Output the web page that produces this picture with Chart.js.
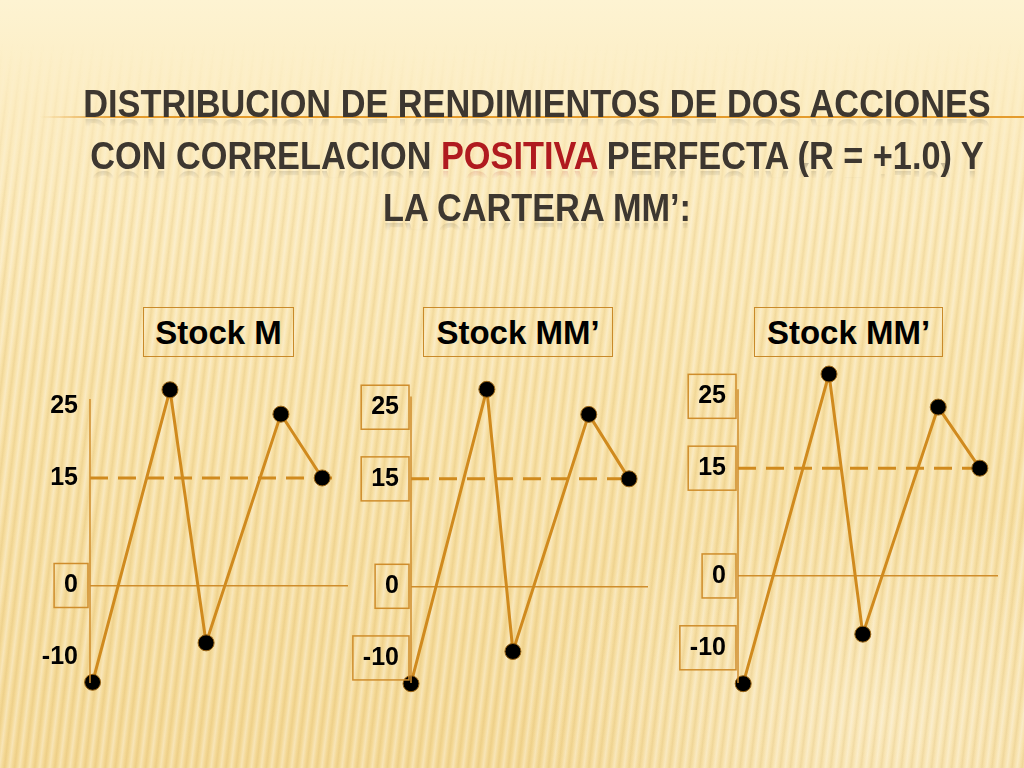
<!DOCTYPE html>
<html>
<head>
<meta charset="utf-8">
<script src="https://cdn.jsdelivr.net/npm/chart.js@4.4.0/dist/chart.umd.min.js"></script>
<style>
html, body { margin: 0; padding: 0; }
#slide {
  position: relative; width: 1024px; height: 768px; overflow: hidden;
  background:
    radial-gradient(ellipse 520px 320px at 880px 720px, rgba(255,246,220,0.5), rgba(255,246,220,0) 70%),
    linear-gradient(to bottom, #fdf3d2 0px, #fcecc0 110px, #f8e1a6 380px, #f4d894 768px);
}
#stripes {
  position: absolute; left: 0; top: 0; width: 1024px; height: 768px;
  background: repeating-linear-gradient(97deg,
    rgba(255,255,255,0) 0px, rgba(255,255,255,0.32) 3px, rgba(255,255,255,0) 6px,
    rgba(185,135,40,0.11) 8px, rgba(255,255,255,0) 10px);
  -webkit-mask-image: linear-gradient(to bottom, transparent 40px, black 220px);
  mask-image: linear-gradient(to bottom, transparent 40px, black 220px);
}
#rule {
  position: absolute; left: 40px; top: 116px; width: 984px; height: 2px;
  background: linear-gradient(to right, rgba(228,155,45,0), #e49b2d 8%, #e49b2d);
}
#title {
  position: absolute; left: -200px; top: 78px; width: 1474px; text-align: center;
  font-family: "Liberation Sans", Arial, sans-serif;
  font-weight: bold; font-size: 39px; color: #3d3730;
}
#title div {
  height: 52px; line-height: 52px; white-space: nowrap; transform-origin: 50% 50%;
  -webkit-box-reflect: below -24px linear-gradient(transparent 60%, rgba(255,255,255,0.4));
}
#title span.line { display: inline-block; }
#title .red { color: #b01a1f; }
.head {
  position: absolute; top: 307px; height: 50px; line-height: 50px; box-sizing: border-box;
  border: 1.5px solid #c98a2a; text-align: center;
  font-family: "Liberation Sans", Arial, sans-serif; font-weight: bold; font-size: 33px; color: #000;
}
canvas { position: absolute; }
</style>
</head>
<body>
<div id="slide">
  <div id="stripes"></div>
  <div id="rule"></div>
  <div id="title">
    <div><span class="line">DISTRIBUCION DE RENDIMIENTOS DE DOS ACCIONES</span></div>
    <div><span class="line">CON CORRELACION <span class="red">POSITIVA</span> PERFECTA (R = +1.0) Y</span></div>
    <div><span class="line">LA CARTERA MM’:</span></div>
  </div>
  <div class="head" style="left:143px;width:151px;">Stock M</div>
  <div class="head" style="left:423px;width:190px;">Stock MM’</div>
  <div class="head" style="left:754px;width:189px;">Stock MM’</div>
  <canvas id="c1" width="328" height="363" style="left:30px;top:347px;"></canvas>
  <canvas id="c2" width="307" height="362" style="left:351px;top:348px;"></canvas>
  <canvas id="c3" width="330" height="373" style="left:678px;top:337px;"></canvas>
</div>
<script>
// periods along the axis (0..10) and returns (%)
const stockMX = [0.1, 3.1, 4.5, 7.4, 9.0];
const stockMY = [-13.5, 27.3, -8, 23.9, 15];
const stockM2X = [0, 3.2, 4.3, 7.5, 9.2];
const stockM2Y = [-13.6, 27.5, -9.1, 24, 15];
const portMMX = [0.2, 3.5, 4.8, 7.7, 9.3];
const portMMY = [-15, 28.1, -8.1, 23.5, 15];

const meanReturn = 15;
const meanLineEnd = [9.4, 9.1, 9.3];
const yTicks = [-10, 0, 15, 25];

const ORANGE = "#d08a1e";
const THIN = "#cf8d2c";
Chart.defaults.font.family = "'Liberation Sans', Arial, sans-serif";

// squeeze the title into a condensed look
const titleLines = document.querySelectorAll("#title div");
const k = 907 / titleLines[0].querySelector(".line").offsetWidth;
titleLines.forEach((d) => { d.style.transform = "scaleX(" + k + ")"; });

// y axis line (shorter than the plot area) and boxed tick labels
const axisDecor = {
  id: "axisDecor",
  afterDraw(chart, args, opts) {
    const s = chart.scales.y;
    const c = chart.ctx;
    c.save();
    c.strokeStyle = THIN;
    c.lineWidth = 1.5;
    c.beginPath();
    c.moveTo(s.right, s.getPixelForValue(opts.axisTop));
    c.lineTo(s.right, s.getPixelForValue(s.min));
    c.stroke();
    c.font = "bold 25px 'Liberation Sans', Arial";
    s.ticks.forEach((t) => {
      if (!opts.boxed.includes(t.value)) return;
      const y = s.getPixelForValue(t.value);
      const w = c.measureText(String(t.value)).width;
      const right = s.right - 2;
      c.strokeRect(right - w - 20, y - 22, w + 20, 44);
    });
    c.restore();
  },
};

function makePanel(id, xs, ys, dashEnd, yMin, axisTop, boxed) {
  const points = xs.map((x, i) => ({ x: x, y: ys[i] }));
  return new Chart(document.getElementById(id), {
    type: "line",
    data: {
      datasets: [
        {
          data: points,
          borderColor: ORANGE,
          borderWidth: 3,
          tension: 0,
          pointRadius: 8,
          pointBackgroundColor: "#000",
          pointBorderColor: "#9a6414",
          pointBorderWidth: 1,
          clip: false,
        },
        {
          data: [{ x: 0, y: meanReturn }, { x: dashEnd, y: meanReturn }],
          borderColor: ORANGE,
          borderWidth: 3,
          borderDash: [18, 10],
          pointRadius: 0,
          clip: false,
        },
      ],
    },
    options: {
      responsive: false,
      animation: false,
      layout: { padding: { top: 20, bottom: 20, right: 10, left: 0 } },
      plugins: {
        legend: { display: false },
        tooltip: { enabled: false },
        axisDecor: { boxed: boxed, axisTop: axisTop },
      },
      scales: {
        x: { type: "linear", min: 0, max: 10, display: false },
        y: {
          min: yMin,
          max: 29.5,
          afterBuildTicks: (s) => { s.ticks = yTicks.map((v) => ({ value: v })); },
          afterFit: (s) => { s.width = 60; },
          grid: {
            drawTicks: false,
            lineWidth: 1.5,
            color: (c) => (c.tick && c.tick.value === 0 ? THIN : "rgba(0,0,0,0)"),
          },
          border: { display: false },
          ticks: { padding: 12, color: "#000", font: { size: 25, weight: "bold" } },
        },
      },
    },
    plugins: [axisDecor],
  });
}

makePanel("c1", stockMX, stockMY, meanLineEnd[0], -13.6, 26, [0]);
makePanel("c2", stockM2X, stockM2Y, meanLineEnd[1], -13.5, 26.5, yTicks);
makePanel("c3", portMMX, portMMY, meanLineEnd[2], -14.9, 26, yTicks);
</script>
</body>
</html>
